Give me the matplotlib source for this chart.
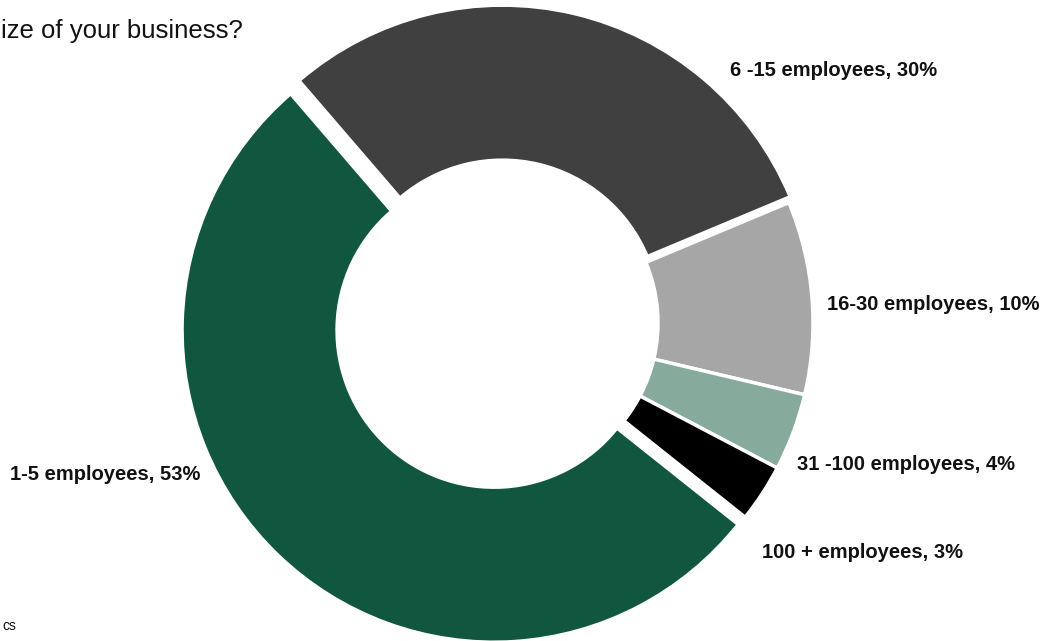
import matplotlib
matplotlib.use("Agg")
import matplotlib.pyplot as plt
from matplotlib import font_manager

# Survey answers: size of the respondent's business
categories = ["1-5 employees", "6 -15 employees", "16-30 employees",
              "31 -100 employees", "100 + employees"]
shares = [53, 30, 10, 4, 3]
colors = ["#115740", "#404040", "#A6A6A6", "#86AA9B", "#000000"]
explode_px = [10, 6, 0, 0, 0]

title_text = "ize of your business?"
footer_text = "cs"

W, H = 1047, 641
fig = plt.figure(figsize=(W / 100, H / 100), dpi=100)
ax = fig.add_axes([0, 0, 1, 1])

names = {f.name for f in font_manager.fontManager.ttflist}
narrow = "Liberation Sans Narrow" if "Liberation Sans Narrow" in names else "Liberation Sans"
fam = [narrow, "DejaVu Sans"]

radius = 312
ring = 155
cx, cy = 501, H - 323

# explode offsets are given in data units (pixels here)
wedges, _ = ax.pie(
    shares,
    colors=colors,
    radius=radius,
    center=(cx, cy),
    startangle=-38.5,
    counterclock=False,
    explode=explode_px,
    wedgeprops=dict(width=ring, edgecolor="white", linewidth=2.5),
)

ax.set_xlim(0, W)
ax.set_ylim(0, H)
ax.set_aspect("equal")
ax.axis("off")

# category labels placed beside their slices
label_pos = {
    "1-5 employees": (10, 474),
    "6 -15 employees": (730, 70),
    "16-30 employees": (827, 305),
    "31 -100 employees": (797, 464),
    "100 + employees": (762, 553),
}
for cat, val in zip(categories, shares):
    x, y = label_pos[cat]
    ax.text(x, H - y, f"{cat}, {val}%", ha="left", va="center",
            fontsize=14.5, fontweight="bold", family=fam, color="#111111")

ax.text(1, H - 38, title_text, ha="left", va="baseline",
        fontsize=18.5, family=fam, color="#111111")
ax.text(2, H - 626, footer_text, ha="left", va="center",
        fontsize=10, family=fam, color="#111111")

fig.savefig("out.png", dpi=100)
